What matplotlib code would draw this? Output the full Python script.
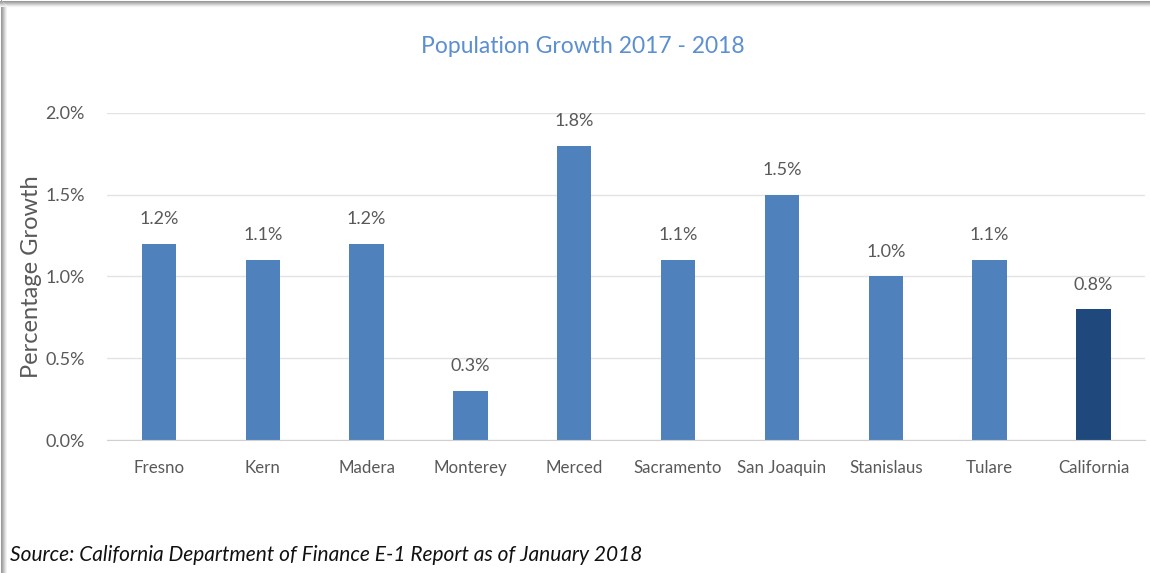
import matplotlib.pyplot as plt
from matplotlib.lines import Line2D
from matplotlib.ticker import FuncFormatter

counties = ['Fresno', 'Kern', 'Madera', 'Monterey', 'Merced', 'Sacramento',
            'San Joaquin', 'Stanislaus', 'Tulare', 'California']
growth = [1.2, 1.1, 1.2, 0.3, 1.8, 1.1, 1.5, 1.0, 1.1, 0.8]
yticks = [0.0, 0.5, 1.0, 1.5, 2.0]

BAR = '#4f81bd'
STATE = '#1f497d'
TEXT = '#595959'

plt.rcParams['font.family'] = ['Lato', 'DejaVu Sans']

fig = plt.figure(figsize=(11.5, 5.73), dpi=100)
ax = fig.add_axes([0.093, 0.232, 0.903, 0.571])

colors = [STATE if c == 'California' else BAR for c in counties]
x = list(range(len(counties)))
bars = ax.bar(x, growth, width=0.33, color=colors, zorder=3)

for rect, v in zip(bars, growth):
    ax.annotate(f'{v:.1f}%', (rect.get_x() + rect.get_width() / 2, v),
                xytext=(0, 12), textcoords='offset points',
                ha='center', va='bottom', fontsize=13, color=TEXT)

ax.set_xlim(-0.5, len(counties) - 0.5)
ax.set_ylim(0, 2.0)
ax.set_yticks(yticks)
ax.yaxis.set_major_formatter(FuncFormatter(lambda v, p: f'{v:.1f}%'))
ax.set_xticks(x)
ax.set_xticklabels(counties)
ax.tick_params(axis='y', length=0, pad=16, labelsize=13, labelcolor=TEXT)
ax.tick_params(axis='x', length=0, pad=14, labelsize=12.2, labelcolor=TEXT)
ax.grid(axis='y', color='#e3e3e3', linewidth=1, zorder=0)
for s in ['top', 'right', 'left']:
    ax.spines[s].set_visible(False)
ax.spines['bottom'].set_color('#d0d0d0')
ax.spines['bottom'].set_zorder(4)

ax.set_ylabel('Percentage Growth', fontsize=17, color=TEXT, labelpad=2)

fig.text(0.507, 0.918, 'Population Growth 2017 - 2018', ha='center',
         va='center', fontsize=16.5, color='#5b8fd0')
fig.text(0.009, 0.031, 'Source: California Department of Finance E-1 Report as of January 2018',
         ha='left', va='center', fontsize=15, style='italic', color='#111111')

# grey frame along the top and left edges
for i, g in enumerate(['#9a9a9a', '#ababab', '#bdbdbd', '#d0d0d0', '#e4e4e4', '#f2f2f2']):
    fig.add_artist(Line2D([0, 1], [1 - (i + 0.5) / 573] * 2, color=g,
                          linewidth=0.75, transform=fig.transFigure))
    fig.add_artist(Line2D([(i + 0.5) / 1150] * 2, [0, 1 - i / 573], color=g,
                          linewidth=0.75, transform=fig.transFigure))

fig.savefig('out.png', dpi=100)
